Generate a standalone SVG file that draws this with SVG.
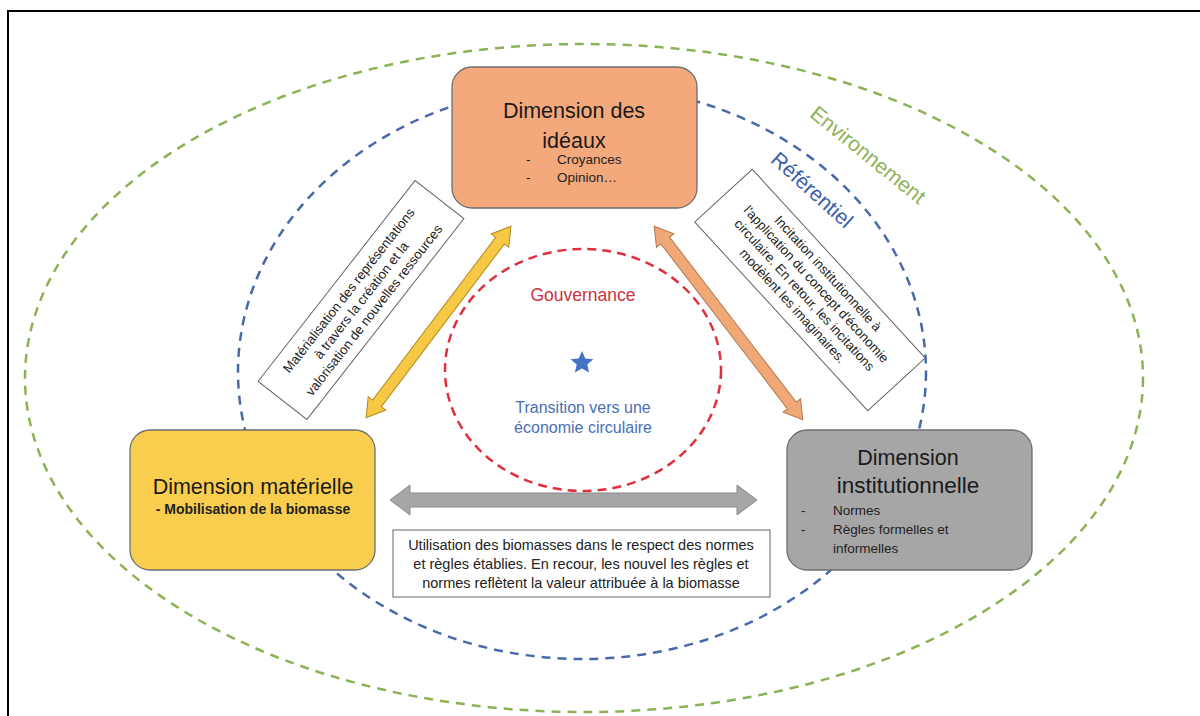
<svg xmlns="http://www.w3.org/2000/svg" width="1200" height="716" viewBox="0 0 1200 716">
<style>
text{font-family:"Liberation Sans",Arial,sans-serif;fill:#222}
.title{font-size:21.5px;text-anchor:middle;fill:#1a1a1a}
.small{font-size:13.5px}
.lbl{font-size:14.5px;text-anchor:middle;fill:#222}
.rl{font-size:13.2px;text-anchor:middle;fill:#222}
.box{stroke:#6e6e6e;stroke-width:1.3}
.tbox{fill:#fff;stroke:#666;stroke-width:1}
</style>
<rect width="1200" height="716" fill="#fff"/>
<path d="M8 716 V11 H1200" fill="none" stroke="#000" stroke-width="2"/>
<g id="zones">
<ellipse cx="584" cy="378" rx="559" ry="334" fill="none" stroke="#8DB255" stroke-width="2.5" stroke-dasharray="9 7"/>
<ellipse cx="582" cy="372" rx="344" ry="287" fill="none" stroke="#4A68AA" stroke-width="2.5" stroke-dasharray="9 7"/>
<ellipse cx="583" cy="370" rx="138" ry="121" fill="none" stroke="#E03040" stroke-width="2.5" stroke-dasharray="9 6"/>
<text x="868" y="162" font-size="21" style="fill:#8DB255" text-anchor="middle" transform="rotate(39 868 155)">Environnement</text>
<text x="812" y="197" font-size="21" style="fill:#3A5FA8" text-anchor="middle" transform="rotate(42 812 190)">Référentiel</text>
<text x="583" y="301" font-size="17.5" style="fill:#D03040" text-anchor="middle">Gouvernance</text>
<polygon points="582,351 585.3,358.5 593.4,359.3 587.3,364.6 589.1,372.6 582,368.4 574.9,372.6 576.7,364.6 570.6,359.3 578.7,358.5" fill="#4472C4"/>
<text x="583" y="413" font-size="16" style="fill:#4A6FB5" text-anchor="middle">Transition vers une</text>
<text x="583" y="433" font-size="16" style="fill:#4A6FB5" text-anchor="middle">économie circulaire</text>
</g>
<g id="connectors">
<polygon transform="translate(438.5 322) rotate(-52.9)" points="-120,0 -102,-11 -102,-5.5 102,-5.5 102,-11 120,0 102,11 102,5.5 -102,5.5 -102,11" fill="#F7C843" stroke="#B08A20" stroke-width="1"/>
<polygon transform="translate(728.5 323) rotate(52.5)" points="-122,0 -104,-11 -104,-5.5 104,-5.5 104,-11 122,0 104,11 104,5.5 -104,5.5 -104,11" fill="#F0A877" stroke="#B07850" stroke-width="1"/>
<polygon points="390,500 410,485 410,493 737,493 737,485 757,500 737,515 737,507 410,507 410,515" fill="#A6A6A6" stroke="#8A8A8A" stroke-width="1"/>
</g>
<g id="label-left" transform="translate(361 300) rotate(-52)">
<rect class="tbox" x="-127.5" y="-31" width="255" height="62"/>
<text class="rl" x="0" y="-11">Matérialisation des représentations</text>
<text class="rl" x="0" y="5">à travers la création et la</text>
<text class="rl" x="0" y="21">valorisation de nouvelles ressources</text>
</g>
<g id="label-right" transform="translate(810 290) rotate(47.5)">
<rect class="tbox" x="-128" y="-39" width="256" height="78"/>
<text class="rl" x="0" y="-20">Incitation institutionnelle à</text>
<text class="rl" x="0" y="-4">l'application du concept d'économie</text>
<text class="rl" x="0" y="12">circulaire. En retour, les incitations</text>
<text class="rl" x="0" y="28">modèlent les imaginaires.</text>
</g>
<g id="label-bottom">
<rect class="tbox" x="393" y="530" width="377" height="67"/>
<text class="lbl" x="581" y="550">Utilisation des biomasses dans le respect des normes</text>
<text class="lbl" x="581" y="569">et règles établies. En recour, les nouvel les règles et</text>
<text class="lbl" x="581" y="588">normes reflètent la valeur attribuée à la biomasse</text>
</g>
<g id="node-ideaux">
<rect class="box" x="452" y="67" width="245" height="141" rx="20" fill="#F4A97C"/>
<text class="title" x="574" y="118">Dimension des</text>
<text class="title" x="574" y="148">idéaux</text>
<text class="small" x="526" y="164">-</text>
<text class="small" x="557" y="164">Croyances</text>
<text class="small" x="526" y="182">-</text>
<text class="small" x="557" y="182">Opinion…</text>
</g>
<g id="node-materielle">
<rect class="box" x="130" y="430" width="245" height="140" rx="20" fill="#F9CE4E"/>
<text class="title" x="253" y="494">Dimension matérielle</text>
<text x="253" y="514" font-size="14" font-weight="bold" text-anchor="middle">- Mobilisation de la biomasse</text>
</g>
<g id="node-institutionnelle">
<rect class="box" x="787" y="430" width="245" height="140" rx="20" fill="#A6A6A6"/>
<text class="title" x="908" y="465" font-size="22">Dimension</text>
<text class="title" x="908" y="493" style="font-size:22.5px">institutionnelle</text>
<text class="small" x="801" y="515">-</text>
<text class="small" x="833" y="515">Normes</text>
<text class="small" x="801" y="534">-</text>
<text class="small" x="833" y="534">Règles formelles et</text>
<text class="small" x="833" y="553">informelles</text>
</g>
</svg>
